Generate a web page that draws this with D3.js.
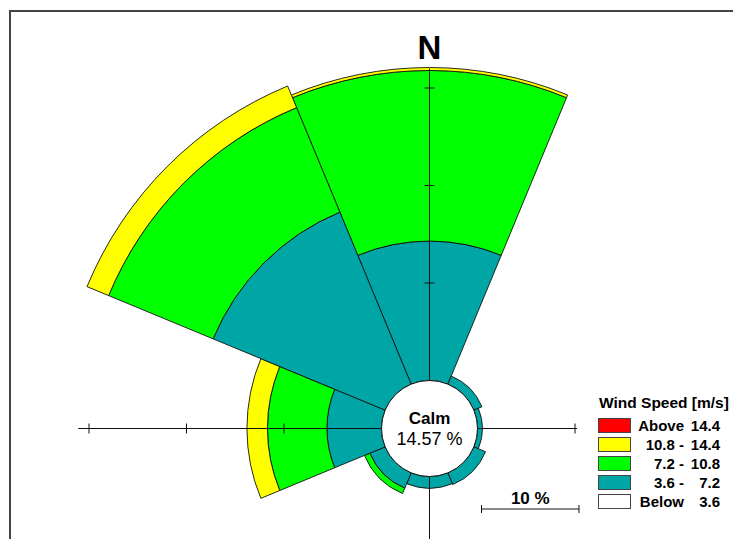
<!DOCTYPE html>
<html>
<head>
<meta charset="utf-8">
<script src="https://cdn.jsdelivr.net/npm/d3@7"></script>
<style>
  body { margin: 0; background: #fff; }
  svg { display: block; font-family: Arial, "Liberation Sans", sans-serif; }
</style>
</head>
<body>
<svg id="chart" width="733" height="539"></svg>
<script>
// wind rose data (percent of time)
const directions = ["N", "NE", "E", "SE", "S", "SW", "W", "NW"]
const calmPct = 14.57

const below3_6   = [0, 0, 0, 0, 0, 0, 0, 0]
const from3_6    = [14.3, 0.9, 0.5, 1.3, 1.2, 1.7, 5.6, 19.1]
const from7_2    = [17.5, 0, 0, 0, 0, 0.6, 6.1, 11.6]
const from10_8   = [0.3, 0, 0, 0, 0, 0, 2.1, 2.4]
const above14_4  = [0, 0, 0, 0, 0, 0, 0, 0]

const classLabels = [
    ["Above", "14.4"],
    ["10.8 -", "14.4"],
    ["7.2 -", "10.8"],
    ["3.6 -", "7.2"],
    ["Below", "3.6"]
]
const classColors = ["#ff0000", "#ffff00", "#00ff00", "#00a6a6", "#ffffff"]

const axisTicks = [10, 20, 30]

const svg = d3.select("#chart")
const cx = 429.5, cy = 428.5
const calmR = 48

// radius scale: 0% sits on the calm circle
const r = d3.scaleLinear().domain([0, 30]).range([calmR, calmR + 292.5])

// frame
svg.append("path")
    .attr("d", "M10,560 L10,11 L760,11")
    .attr("fill", "none")
    .attr("stroke", "#444")
    .attr("stroke-width", 2)

const g = svg.append("g").attr("transform", `translate(${cx},${cy})`)

// stack the speed classes for each direction (inner -> outer)
const stackOrder = [below3_6, from3_6, from7_2, from10_8, above14_4]
const stackColors = ["#ffffff", "#00a6a6", "#00ff00", "#ffff00", "#ff0000"]
const bands = []
directions.forEach((dir, i) => {
    let acc = 0
    stackOrder.forEach((arr, k) => {
        const v = arr[i]
        if (v > 0) {
            bands.push({ dir: i, lo: acc, hi: acc + v, color: stackColors[k] })
        }
        acc += v
    })
})

const step = 2 * Math.PI / directions.length
const arc = d3.arc()
    .innerRadius(d => r(d.lo))
    .outerRadius(d => r(d.hi))
    .startAngle(d => d.dir * step - step / 2)
    .endAngle(d => d.dir * step + step / 2)

g.append("g")
    .selectAll("path")
    .data(bands)
    .join("path")
        .attr("d", arc)
        .attr("fill", d => d.color)
        .attr("stroke", "#111")
        .attr("stroke-width", 0.9)

// axes
const axis = g.append("g").attr("stroke", "#111").attr("stroke-width", 1)
axis.append("line").attr("x1", -r(31.1)).attr("x2", r(10.2)).attr("y1", 0).attr("y2", 0)
axis.append("line").attr("x1", 0).attr("x2", 0).attr("y1", -r(32)).attr("y2", 120)

axis.selectAll(".tickW")
    .data(axisTicks)
    .join("line")
        .attr("x1", d => -r(d)).attr("x2", d => -r(d))
        .attr("y1", -5).attr("y2", 5)
axis.selectAll(".tickN")
    .data(axisTicks)
    .join("line")
        .attr("y1", d => -r(d)).attr("y2", d => -r(d))
        .attr("x1", -5).attr("x2", 5)
axis.append("line")
    .attr("x1", r(10)).attr("x2", r(10)).attr("y1", -5).attr("y2", 5)

// calm circle
g.append("circle")
    .attr("r", calmR)
    .attr("fill", "#fff")
    .attr("stroke", "#111")
    .attr("stroke-width", 1)
g.append("text")
    .attr("text-anchor", "middle")
    .attr("y", -5)
    .attr("font-size", 17)
    .attr("font-weight", "bold")
    .text("Calm")
g.append("text")
    .attr("text-anchor", "middle")
    .attr("y", 16)
    .attr("font-size", 18)
    .text(calmPct.toFixed(2) + " %")

// north label
g.append("text")
    .attr("text-anchor", "middle")
    .attr("y", -r(0) - 322)
    .attr("font-size", 33)
    .attr("font-weight", "bold")
    .text(directions[0])

// scale bar (10 %)
const barX0 = cx + 52, barY = 509
const barLen = r(10) - r(0)
const bar = svg.append("g").attr("stroke", "#111").attr("stroke-width", 1)
bar.append("line").attr("x1", barX0).attr("x2", barX0 + barLen).attr("y1", barY).attr("y2", barY)
bar.append("line").attr("x1", barX0).attr("x2", barX0).attr("y1", barY - 4).attr("y2", barY + 4)
bar.append("line").attr("x1", barX0 + barLen).attr("x2", barX0 + barLen).attr("y1", barY - 4).attr("y2", barY + 4)
svg.append("text")
    .attr("x", barX0 + barLen / 2)
    .attr("y", barY - 5)
    .attr("text-anchor", "middle")
    .attr("font-size", 17)
    .attr("font-weight", "bold")
    .text("10 %")

// legend
const legend = svg.append("g").attr("transform", "translate(598,0)")
legend.append("text")
    .attr("x", 1).attr("y", 407.5)
    .attr("font-size", 15.5)
    .attr("font-weight", "bold")
    .text("Wind Speed [m/s]")

const rows = legend.selectAll(".row")
    .data(classLabels)
    .join("g")
        .attr("transform", (d, i) => `translate(0,${418 + i * 19})`)
rows.append("rect")
    .attr("x", 0.5).attr("y", 0.5)
    .attr("width", 32).attr("height", 14)
    .attr("fill", (d, i) => classColors[i])
    .attr("stroke", "#444")
rows.append("text")
    .attr("x", 86).attr("y", 12.5)
    .attr("text-anchor", "end")
    .attr("font-size", 15)
    .attr("font-weight", "bold")
    .text(d => d[0])
rows.append("text")
    .attr("x", 122).attr("y", 12.5)
    .attr("text-anchor", "end")
    .attr("font-size", 15)
    .attr("font-weight", "bold")
    .text(d => d[1])
</script>
</body>
</html>
